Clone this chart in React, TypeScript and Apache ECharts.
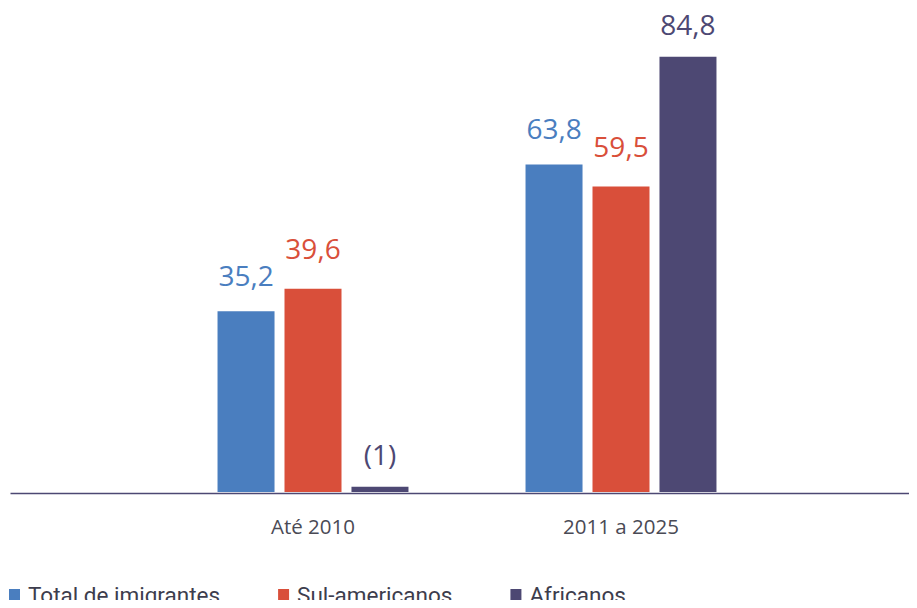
import React, { useEffect, useRef } from "react";
import * as echarts from "echarts";

const categories = ["Até 2010", "2011 a 2025"];
const seriesNames = ["Total de imigrantes", "Sul-americanos", "Africanos"];
const totalValues = [35.2, 63.8];
const sulValues = [39.6, 59.5];
const africanosValues = [1, 84.8];
const africanosLabels = ["(1)", "84,8"];
const colors = ["#4a7ebf", "#d94f3a", "#4d4873"];

const fmt = (v: number) => v.toFixed(1).replace(".", ",");

export default function App() {
  const ref = useRef<HTMLDivElement>(null);
  useEffect(() => {
    if (!ref.current) return;
    const chart = echarts.init(ref.current, null, { renderer: "svg" });
    const labelBase = {
      show: true,
      position: "top" as const,
      fontSize: 28,
      fontFamily: "Open Sans",
    };
    chart.setOption({
      animation: false,
      textStyle: { fontFamily: "Open Sans" },
      grid: { left: 159, right: 142, top: 30, bottom: 116 },
      xAxis: {
        type: "category",
        data: categories,
        axisLine: { show: false },
        axisTick: { show: false },
        axisLabel: { color: "#4a4a55", fontSize: 20.5, margin: 23, fontFamily: "Open Sans" },
      },
      yAxis: { type: "value", min: 0, max: 90, show: false, splitLine: { show: false } },
      legend: {
        bottom: -3,
        left: 4,
        itemWidth: 11,
        itemHeight: 11,
        itemGap: 58,
        icon: "rect",
        textStyle: { fontSize: 22.5, color: "#3d3d4d", fontFamily: "Roboto", padding: [0, 0, 0, 3] },
        data: seriesNames,
      },
      graphic: [
        {
          type: "line",
          left: 8,
          top: 491,
          shape: { x1: 0, y1: 0, x2: 909, y2: 0 },
          style: { stroke: "#4d4873", lineWidth: 1.5 },
        },
      ],
      series: [
        {
          name: seriesNames[0],
          type: "bar",
          data: totalValues,
          barWidth: 57,
          barGap: "17.5%",
          itemStyle: { color: colors[0] },
          label: { ...labelBase, distance: 22, color: colors[0], formatter: (p: any) => fmt(p.value) },
        },
        {
          name: seriesNames[1],
          type: "bar",
          data: sulValues,
          barWidth: 57,
          barGap: "17.5%",
          itemStyle: { color: colors[1] },
          label: { ...labelBase, distance: 27, color: colors[1], formatter: (p: any) => fmt(p.value) },
        },
        {
          name: seriesNames[2],
          type: "bar",
          data: africanosValues,
          barWidth: 57,
          barGap: "17.5%",
          itemStyle: { color: colors[2] },
          label: { ...labelBase, distance: 19, color: colors[2], formatter: (p: any) => africanosLabels[p.dataIndex] },
        },
      ],
    });
    return () => chart.dispose();
  }, []);
  return <div ref={ref} style={{ width: 917, height: 608, margin: -8 }} />;
}
